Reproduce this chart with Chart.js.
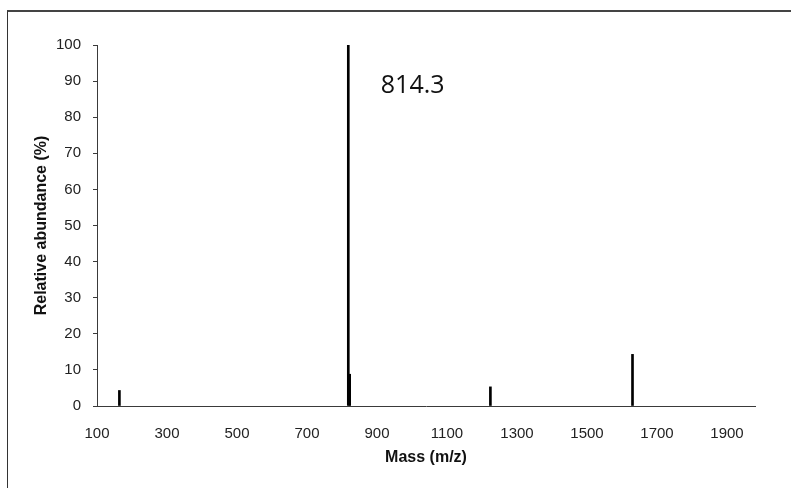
<!DOCTYPE html>
<html>
<head>
<meta charset="utf-8">
<title>Espectro de masas</title>
<script src="https://cdn.jsdelivr.net/npm/chart.js@4.4.1/dist/chart.umd.min.js"></script>
<style>
  body { margin: 0; background: #fff; overflow: hidden; }
  #marco {
    position: absolute; left: 7px; top: 10px; width: 820px; height: 520px;
    border-left: 1px solid #333; border-top: 2px solid #444;
  }
  #contenedor { position: absolute; left: 0; top: 0; width: 791px; height: 488px; }
</style>
</head>
<body>
<div id="marco"></div>
<div id="contenedor"><canvas id="chartEspectro"></canvas></div>
<script>
// =================== DATOS ===================
const picosMasa = [164, 818, 822, 1224, 1630];       // m/z
const picosAbundancia = [4.3, 100, 8.8, 5.3, 14.3];   // %
const ticksX = [100, 300, 500, 700, 900, 1100, 1300, 1500, 1700, 1900];
const ticksY = [0, 10, 20, 30, 40, 50, 60, 70, 80, 90, 100];
const etiquetaTexto = '814.3';
const etiquetaMasa = 1002;
const etiquetaAbundancia = 86.7;

// =================== ESTILOS ===================
const fuenteTicks = "'Liberation Sans Narrow', 'Arial Narrow', 'Liberation Sans', Arial, sans-serif";
const fuenteTitulos = "'Liberation Sans', Arial, sans-serif";
const colorEje = '#3a3a3a';

// etiqueta del pico principal, posicionada con las escalas
const etiquetaPico = {
  id: 'etiquetaPico',
  afterDatasetsDraw(chart) {
    const { ctx, scales } = chart;
    const x = scales.x.getPixelForValue(etiquetaMasa);
    const y = scales.y.getPixelForValue(etiquetaAbundancia);
    ctx.save();
    ctx.font = "25px 'Open Sans', 'Noto Sans', sans-serif";
    ctx.fillStyle = '#111';
    ctx.textAlign = 'center';
    ctx.textBaseline = 'alphabetic';
    ctx.fillText(etiquetaTexto, x, y);
    ctx.restore();
  }
};

const puntos = picosMasa.map((m, i) => ({ x: m, y: picosAbundancia[i] }));

new Chart(document.getElementById('chartEspectro'), {
  type: 'bar',
  data: {
    datasets: [{
      label: 'Abundancia relativa',
      data: puntos,
      backgroundColor: '#000',
      borderWidth: 0,
      barThickness: 2,
      grouped: false
    }]
  },
  options: {
    responsive: true,
    maintainAspectRatio: false,
    animation: false,
    layout: { padding: { left: 0, top: 45, right: 36, bottom: 0 } },
    plugins: {
      legend: { display: false },
      tooltip: { enabled: false }
    },
    scales: {
      x: {
        type: 'linear',
        min: 100,
        max: 1980,
        offset: false,
        afterBuildTicks: s => { s.ticks = ticksX.map(v => ({ value: v })); },
        afterFit: s => { s.height = 82; },
        grid: { display: false },
        border: { display: true, color: colorEje, width: 1 },
        ticks: {
          padding: 11,
          color: '#222',
          maxRotation: 0,
          autoSkip: false,
          callback: v => String(v),
          font: { family: fuenteTicks, size: 15 }
        },
        title: {
          display: true,
          text: 'Mass (m/z)',
          color: '#111',
          font: { family: fuenteTitulos, size: 16, weight: 'bold' },
          padding: { top: 0, bottom: 21 }
        }
      },
      y: {
        min: 0,
        max: 100,
        afterBuildTicks: s => { s.ticks = ticksY.map(v => ({ value: v })); },
        afterFit: s => { s.width = 97; },
        grid: {
          drawOnChartArea: false,
          drawTicks: true,
          tickLength: 4,
          color: colorEje
        },
        border: { display: true, color: colorEje, width: 1 },
        ticks: {
          padding: 12,
          color: '#222',
          callback: v => String(v),
          font: { family: fuenteTicks, size: 15 }
        },
        title: {
          display: true,
          text: 'Relative abundance (%)',
          color: '#111',
          font: { family: fuenteTitulos, size: 16, weight: 'bold' },
          padding: { top: 32, bottom: 0 }
        }
      }
    }
  },
  plugins: [etiquetaPico]
});
</script>
</body>
</html>
